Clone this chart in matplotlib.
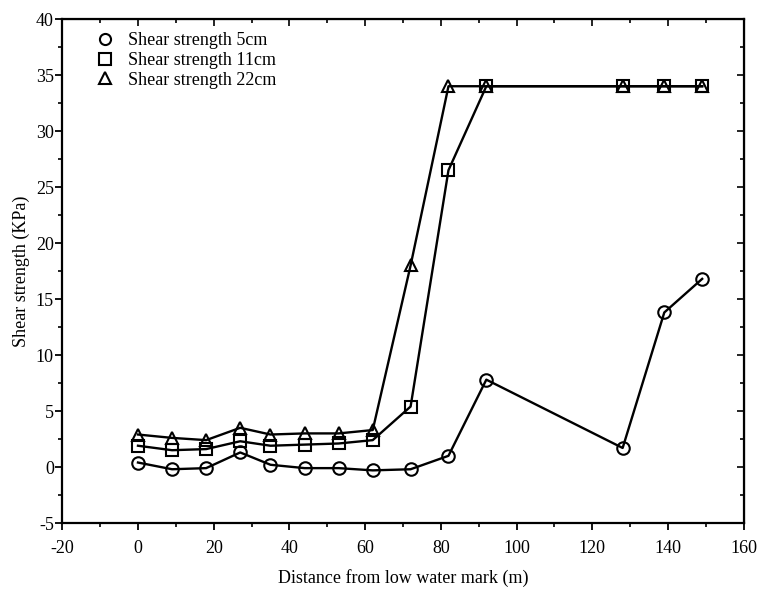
import numpy as np
import matplotlib.pyplot as plt
from matplotlib.lines import Line2D

plt.rcParams['font.family'] = ['Liberation Serif', 'DejaVu Serif']
plt.rcParams['axes.unicode_minus'] = False

# Distance from low water mark (m)
distance = [0, 9, 18, 27, 35, 44, 53, 62, 72, 82, 92, 128, 139, 149]

# Shear strength (KPa) at three depths
shear_5cm = [0.4, -0.2, -0.1, 1.3, 0.2, -0.1, -0.1, -0.3, -0.2, 1.0, 7.8, 1.7, 13.8, 16.8]
shear_11cm = [1.9, 1.5, 1.6, 2.3, 1.9, 2.0, 2.1, 2.4, 5.4, 26.5, 34.0, 34.0, 34.0, 34.0]
shear_22cm = [2.9, 2.6, 2.4, 3.5, 2.9, 3.0, 3.0, 3.3, 18.0, 34.0, 34.0, 34.0, 34.0, 34.0]

labels = ['Shear strength 5cm', 'Shear strength 11cm', 'Shear strength 22cm']
markers = ['o', 's', '^']

fig = plt.figure(figsize=(7.59, 5.95), dpi=100)
ax = fig.add_axes([0.082, 0.121, 0.898, 0.847])

for y, m in zip([shear_5cm, shear_11cm, shear_22cm], markers):
    ax.plot(distance, y, color='black', lw=1.7, marker=m, markersize=9,
            markerfacecolor='none', markeredgecolor='black', markeredgewidth=1.5)

ax.set_xlim(-20, 160)
ax.set_ylim(-5, 40)
ax.set_xticks(np.arange(-20, 161, 20))
ax.set_xticks(np.arange(-10, 160, 10), minor=True)
ax.set_yticks(np.arange(-5, 41, 5))
ax.set_yticks(np.arange(-2.5, 40, 2.5), minor=True)
ax.tick_params(which='major', direction='out', length=5, width=1.3, labelsize=13)
ax.tick_params(which='minor', direction='out', length=3, width=1.2)
ax.tick_params(axis='y', pad=1)
ax.tick_params(axis='x', pad=7)

for s in ax.spines.values():
    s.set_linewidth(1.6)

# inward ticks on top and right
top = ax.secondary_xaxis('top')
top.set_xticks(np.arange(-20, 161, 20))
top.set_xticks(np.arange(-10, 160, 10), minor=True)
top.tick_params(which='both', direction='in', labeltop=False, width=1.2)
top.tick_params(which='major', length=5)
top.tick_params(which='minor', length=3)
right = ax.secondary_yaxis('right')
right.set_yticks(np.arange(-5, 41, 5))
right.set_yticks(np.arange(-2.5, 40, 2.5), minor=True)
right.tick_params(which='both', direction='in', labelright=False, width=1.2)
right.tick_params(which='major', length=5)
right.tick_params(which='minor', length=3)

ax.set_xlabel('Distance from low water mark (m)', fontsize=13, labelpad=9)
ax.set_ylabel('Shear strength (KPa)', fontsize=13, labelpad=4)

handles = [Line2D([], [], linestyle='none', marker=m, markersize=8,
                  markerfacecolor='none', markeredgecolor='black', markeredgewidth=1.5)
           for m in markers]
ax.legend(handles, labels, loc='upper left', bbox_to_anchor=(0.02, 0.995), frameon=False,
          fontsize=13, handletextpad=0.3, labelspacing=0.15, borderaxespad=0.2)

fig.savefig('out.png', dpi=100)
